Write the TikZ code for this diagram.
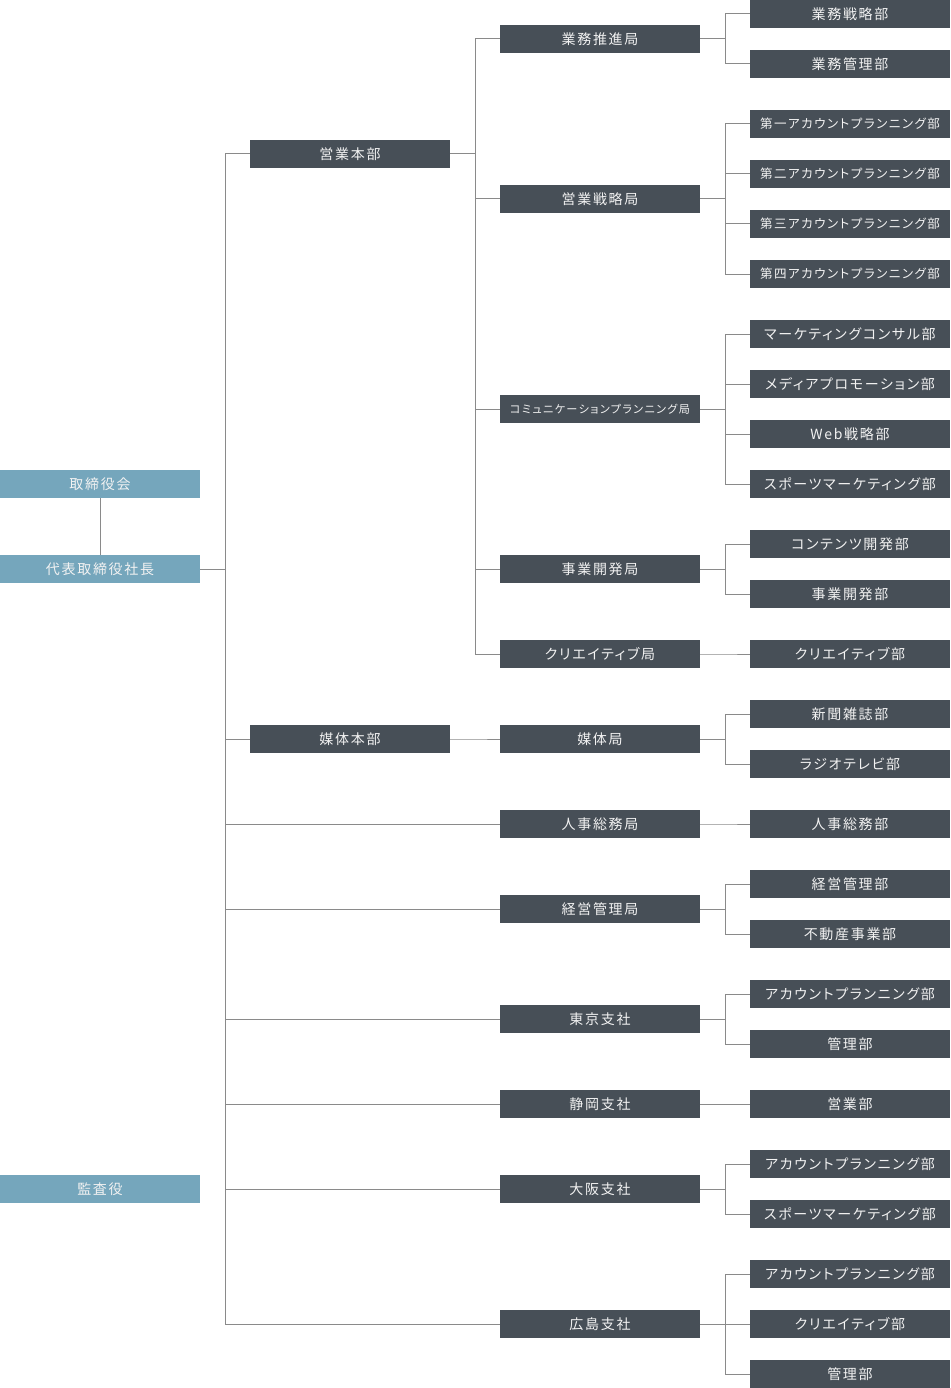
\documentclass[tikz,border=0pt]{standalone}
\usepackage{fontspec}
\usepackage{graphicx}
\newfontfamily\jpfont[LetterSpace=12,RawFeature={+palt}]{Noto Sans CJK JP}
\definecolor{boxdark}{HTML}{474F57}
\definecolor{boxblue}{HTML}{75A6BC}
\definecolor{linegray}{HTML}{8A8A8A}
\definecolor{textw}{HTML}{F2F2F2}
\newsavebox\lblbox
\newcommand\fitlabel[1]{\sbox\lblbox{#1}\ifdim\wd\lblbox>180pt\resizebox{180pt}{!}{\usebox\lblbox}\else\usebox\lblbox\fi}
\tikzset{
  orgbox/.style={minimum width=200pt, minimum height=28pt, inner sep=0pt, text=textw,
    font=\jpfont\fontsize{14pt}{15pt}\selectfont},
  darkbox/.style={orgbox, fill=boxdark},
  bluebox/.style={orgbox, fill=boxblue},
  conn/.style={draw=linegray, line width=1pt},
}
\begin{document}
\begin{tikzpicture}[x=1pt,y=1pt]
\useasboundingbox (0,0) rectangle (950,-1388);
% column 1
\node[bluebox] (a1) at (100,-484) {\fitlabel{取締役会}};
\node[bluebox] (ceo) at (100,-569) {\fitlabel{代表取締役社長}};
\node[bluebox] (a3) at (100,-1189) {\fitlabel{監査役}};
\draw[conn] (a1) -- (ceo);
% column 2
\node[darkbox] (b1) at (350,-154) {\fitlabel{営業本部}};
\node[darkbox] (b2) at (350,-739) {\fitlabel{媒体本部}};
\foreach \n in {b1,b2} \draw[conn] (ceo.east) -- ++(25,0) |- (\n.west);
% column 3
\foreach \n/\y/\t/\p in {
  c1/39/業務推進局/b1,
  c2/199/営業戦略局/b1,
  c3/409/コミュニケーションプランニング局/b1,
  c4/569/事業開発局/b1,
  c5/654/クリエイティブ局/b1,
  c6/739/媒体局/b2,
  c7/824/人事総務局/ceo,
  c8/909/経営管理局/ceo,
  c9/1019/東京支社/ceo,
  c10/1104/静岡支社/ceo,
  c11/1189/大阪支社/ceo,
  c12/1324/広島支社/ceo}{
  \node[darkbox] (\n) at (600,-\y) {\fitlabel{\t}};
  \draw[conn] (\p.east) -- ++(25,0) |- (\n.west);
}
% column 4
\foreach \n/\y/\t/\p in {
  d1/14/業務戦略部/c1,
  d2/64/業務管理部/c1,
  d3/124/第一アカウントプランニング部/c2,
  d4/174/第二アカウントプランニング部/c2,
  d5/224/第三アカウントプランニング部/c2,
  d6/274/第四アカウントプランニング部/c2,
  d7/334/マーケティングコンサル部/c3,
  d8/384/メディアプロモーション部/c3,
  d9/434/Web戦略部/c3,
  d10/484/スポーツマーケティング部/c3,
  d11/544/コンテンツ開発部/c4,
  d12/594/事業開発部/c4,
  d13/654/クリエイティブ部/c5,
  d14/714/新聞雑誌部/c6,
  d15/764/ラジオテレビ部/c6,
  d16/824/人事総務部/c7,
  d17/884/経営管理部/c8,
  d18/934/不動産事業部/c8,
  d19/994/アカウントプランニング部/c9,
  d20/1044/管理部/c9,
  d21/1104/営業部/c10,
  d22/1164/アカウントプランニング部/c11,
  d23/1214/スポーツマーケティング部/c11,
  d24/1274/アカウントプランニング部/c12,
  d25/1324/クリエイティブ部/c12,
  d26/1374/管理部/c12}{
  \node[darkbox] (\n) at (850,-\y) {\fitlabel{\t}};
  \draw[conn] (\p.east) -- ++(25,0) |- (\n.west);
}
\end{tikzpicture}
\end{document}
